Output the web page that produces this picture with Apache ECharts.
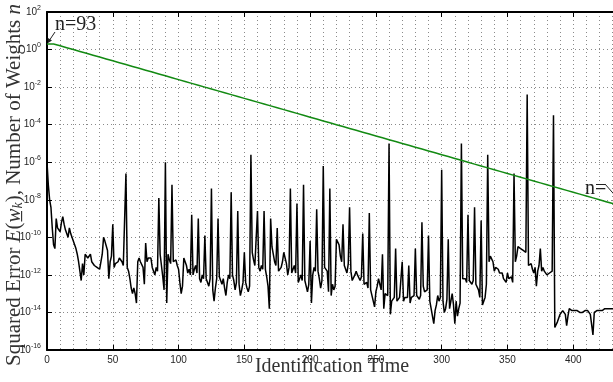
<!DOCTYPE html>
<html><head><meta charset="utf-8">
<script src="https://cdn.jsdelivr.net/npm/echarts@6/dist/echarts.min.js"></script>
<style>html,body{margin:0;padding:0;background:#fff}#c{width:613px;height:382px}</style>
</head><body><div id="c"></div>
<script>
// Squared error E(w_k), log10 values, one per identification time step 0..433
const errorLog10 = [
-6.0,-7.2,-8.0,-8.4,-9.5,-10.4,-10.6,-9.0,-9.5,-9.4,
-9.7,-9.2,-8.9,-9.3,-9.6,-9.8,-10.0,-9.5,-9.8,-10.0,
-9.9,-10.4,-10.6,-10.9,-11.3,-11.8,-12.3,-11.4,-12.0,-10.9,
-10.8,-11.1,-11.0,-10.9,-11.3,-11.4,-11.5,-11.6,-11.6,-11.5,
-11.7,-11.6,-10.9,-10.0,-10.2,-10.1,-10.7,-12.2,-11.3,-11.0,
-9.3,-11.6,-11.4,-11.3,-11.3,-11.1,-11.1,-11.3,-11.5,-11.6,
-6.6,-11.6,-11.8,-12.2,-12.7,-13.0,-12.7,-13.0,-13.5,-11.3,
-11.1,-11.3,-11.2,-11.6,-12.5,-10.3,-11.3,-11.1,-11.0,-11.1,
-11.6,-11.7,-12.0,-11.6,-11.8,-7.9,-10.9,-11.0,-12.1,-12.8,
-6.0,-13.5,-10.9,-11.2,-11.4,-7.2,-11.3,-11.4,-11.2,-11.5,
-11.7,-12.4,-13.0,-12.6,-11.1,-11.3,-11.5,-11.9,-11.7,-12.0,
-8.8,-12.0,-11.7,-11.5,-11.9,-9.0,-12.2,-12.4,-12.0,-12.2,
-9.9,-12.2,-12.4,-12.6,-12.2,-7.4,-12.8,-13.4,-12.7,-12.2,
-9.0,-12.1,-12.3,-12.5,-12.2,-12.7,-13.1,-12.4,-12.0,-12.2,
-7.6,-12.0,-12.3,-12.8,-12.4,-8.6,-12.5,-13.1,-12.8,-12.4,
-10.8,-12.4,-12.7,-12.9,-12.6,-5.6,-10.8,-11.2,-11.5,-11.6,
-8.6,-11.6,-11.8,-11.5,-11.7,-8.6,-11.7,-12.1,-12.6,-13.8,
-9.0,-10.5,-10.9,-11.3,-11.5,-9.5,-11.8,-11.9,-11.6,-11.3,
-10.8,-11.1,-11.4,-12.0,-11.6,-7.4,-11.9,-11.7,-11.5,-11.9,
-8.2,-12.4,-12.3,-12.0,-12.3,-7.2,-12.3,-12.6,-12.9,-12.5,
-10.2,-13.5,-12.0,-11.6,-11.8,-8.5,-11.8,-12.2,-12.7,-12.3,
-6.2,-11.6,-11.5,-11.8,-12.9,-7.4,-13.1,-12.5,-12.8,-12.6,
-10.1,-10.2,-10.4,-11.0,-11.3,-9.3,-11.5,-11.6,-11.9,-11.4,
-8.4,-11.8,-12.3,-12.4,-12.0,-11.8,-12.0,-11.9,-12.3,-12.1,
-9.8,-12.5,-12.6,-12.4,-12.7,-8.7,-12.8,-12.9,-13.4,-13.7,
-12.9,-12.6,-12.2,-12.5,-12.8,-10.9,-13.8,-13.0,-12.9,-13.1,
-5.0,-14.1,-13.4,-13.3,-13.2,-10.6,-13.4,-13.3,-13.2,-13.1,
-11.3,-13.4,-13.2,-13.3,-13.2,-11.5,-13.5,-13.2,-13.3,-13.1,
-10.6,-13.1,-13.2,-13.3,-13.1,-9.2,-12.6,-12.9,-13.0,-12.8,
-9.9,-13.4,-13.8,-14.2,-14.6,-13.9,-13.6,-13.1,-13.4,-13.2,
-6.4,-13.4,-14.0,-13.8,-13.3,-10.1,-13.8,-13.4,-13.0,-13.6,
-14.6,-13.4,-14.2,-13.8,-13.5,-5.0,-12.2,-12.3,-12.2,-12.4,
-8.8,-12.3,-12.2,-12.5,-12.3,-8.4,-12.5,-12.6,-12.8,-13.2,
-9.1,-13.6,-13.4,-13.2,-12.5,-5.6,-11.3,-11.0,-11.1,-11.3,
-11.8,-11.6,-11.5,-11.7,-11.9,-12.0,-11.9,-12.2,-12.3,-12.4,
-11.9,-12.2,-12.3,-12.1,-12.4,-6.6,-11.3,-11.0,-10.5,-10.4,
-10.6,-10.5,-10.7,-10.6,-10.8,-2.4,-11.5,-11.6,-11.4,-11.7,
-11.9,-11.6,-12.6,-11.8,-11.5,-10.6,-11.8,-11.6,-11.8,-11.7,
-12.0,-12.1,-11.9,-12.0,-11.8,-3.5,-14.8,-14.7,-14.5,-14.3,
-14.1,-14.0,-13.9,-13.8,-14.1,-14.7,-14.2,-13.8,-13.8,-13.9,
-13.9,-13.9,-14.0,-13.9,-14.0,-14.0,-13.9,-14.0,-14.0,-13.9,
-14.0,-13.9,-14.0,-14.1,-14.0,-15.2,-14.0,-13.9,-13.9,-14.0,
-13.9,-13.9,-13.9,-13.9,-13.8,-13.9,-13.8,-13.9,-13.8,-13.9,
-13.8,-13.9,-13.8,-13.8
];
// Number-of-weights curve (green staircase), log10 level of each 5-step segment
const weightLog10 = [
0.3,0.2,0.1,0.0,-0.1,-0.2,-0.3,-0.4,-0.5,-0.6,
-0.7,-0.8,-0.9,-1.0,-1.1,-1.2,-1.3,-1.4,-1.5,-1.6,
-1.7,-1.8,-1.9,-2.0,-2.1,-2.2,-2.3,-2.4,-2.5,-2.6,
-2.7,-2.8,-2.9,-3.0,-3.1,-3.2,-3.3,-3.4,-3.5,-3.6,
-3.7,-3.8,-3.9,-4.0,-4.1,-4.2,-4.3,-4.4,-4.5,-4.6,
-4.7,-4.8,-4.9,-5.0,-5.1,-5.2,-5.3,-5.4,-5.5,-5.6,
-5.7,-5.8,-5.9,-6.0,-6.1,-6.2,-6.3,-6.4,-6.5,-6.6,
-6.7,-6.8,-6.9,-7.0,-7.1,-7.2,-7.3,-7.4,-7.5,-7.6,
-7.7,-7.8,-7.9,-8.0,-8.1,-8.2,-8.3
];
const stepLength = 5;
const xTickValues = [0, 50, 100, 150, 200, 250, 300, 350, 400, 450];
const yExponents = [2, 0, -2, -4, -6, -8, -10, -12, -14, -16];
const startLabel = 'n=93';
const endLabel = 'n=';

const errorData = errorLog10.map((v, i) => [i, Math.pow(10, v)]);
const weightData = weightLog10.map((v, i) => [i * stepLength, Math.pow(10, v)]);
weightData.push([weightLog10.length * stepLength, Math.pow(10, weightLog10[weightLog10.length - 1])]);

const chart = echarts.init(document.getElementById('c'), null, {renderer: 'canvas'});
const gridLine = {show: true, lineStyle: {color: '#8a8a8a', width: 1, type: [1, 3]}};
const tickFont = {fontFamily: 'Liberation Sans', fontSize: 10, color: '#262626'};

chart.setOption({
  animation: false,
  backgroundColor: '#fff',
  grid: {left: 47, right: -26, top: 12, bottom: 32, show: false, outerBoundsMode: 'none', containLabel: false},
  xAxis: [{
    type: 'value', min: xTickValues[0], max: xTickValues[xTickValues.length - 1], interval: 50,
    position: 'bottom',
    axisLine: {show: true, onZero: false, lineStyle: {color: '#000', width: 2}},
    axisTick: {show: true, inside: true, length: 5, lineStyle: {color: '#000', width: 1}},
    axisLabel: Object.assign({margin: 5}, tickFont),
    splitLine: gridLine,
    minorTick: {show: false, splitNumber: 5},
    minorSplitLine: gridLine
  }, {
    type: 'value', min: xTickValues[0], max: xTickValues[xTickValues.length - 1], interval: 50,
    position: 'top',
    axisLine: {show: true, onZero: false, lineStyle: {color: '#000', width: 2}},
    axisTick: {show: true, inside: true, length: 5, lineStyle: {color: '#000', width: 1}},
    axisLabel: {show: false},
    splitLine: {show: false}
  }],
  yAxis: {
    type: 'log', logBase: 10,
    min: Math.pow(10, yExponents[yExponents.length - 1]), max: Math.pow(10, yExponents[0]),
    interval: 2,
    axisLine: {show: true, onZero: false, lineStyle: {color: '#000', width: 2}},
    axisTick: {show: true, inside: true, length: 5, lineStyle: {color: '#000', width: 1}},
    splitLine: gridLine,
    axisLabel: {
      margin: 6,
      formatter: v => '{b|10}{e|' + Math.round(Math.log10(v)) + '}',
      rich: {
        b: {fontFamily: 'Liberation Sans', fontSize: 10, color: '#262626'},
        e: {fontFamily: 'Liberation Sans', fontSize: 7, color: '#262626', padding: [0, 0, 8, 0]}
      }
    }
  },
  series: [{
    type: 'line', name: 'error', data: errorData, showSymbol: false, symbol: 'none',
    lineStyle: {color: '#000', width: 1.5}, clip: true, z: 3
  }, {
    type: 'line', name: 'weights', data: weightData, step: 'end', showSymbol: false, symbol: 'none',
    lineStyle: {color: '#138a13', width: 1.5}, clip: true, z: 4
  }]
});

const tip = chart.convertToPixel({xAxisIndex: 0, yAxisIndex: 0}, [0, Math.pow(10, weightLog10[0])]);
const serifFont = 'Liberation Serif';
chart.setOption({
  graphic: [
    {type: 'text', x: 332, y: 367, style: {text: 'Identification Time', fontFamily: serifFont, fontSize: 20, fill: '#333', align: 'center', verticalAlign: 'middle'}},
    {type: 'text', x: 14, y: 366, rotation: Math.PI / 2, style: {
      text: '{r|Squared Error }{i|E}{r|(}{i|w\u0332}{s|k}{r|), Number of Weights }{i|n}',
      align: 'left', verticalAlign: 'middle',
      rich: {
        r: {fontFamily: serifFont, fontSize: 21, fill: '#333'},
        i: {fontFamily: serifFont, fontSize: 21, fontStyle: 'italic', fill: '#333'},
        s: {fontFamily: serifFont, fontSize: 14, fontStyle: 'italic', fill: '#333', padding: [9, 0, 0, 0]}
      }
    }},
    {type: 'text', x: 55, y: 25, style: {text: startLabel, fontFamily: serifFont, fontSize: 20, fill: '#222', align: 'left', verticalAlign: 'middle'}},
    {type: 'line', shape: {x1: 55, y1: 32, x2: tip[0] + 2, y2: tip[1] - 3}, style: {stroke: '#222', lineWidth: 1}},
    {type: 'polygon', shape: {points: [[tip[0] + 1, tip[1] - 1], [tip[0] + 1, tip[1] - 6], [tip[0] + 5, tip[1] - 3.5]]}, style: {fill: '#222'}},
    {type: 'text', x: 585, y: 189, style: {text: endLabel, fontFamily: serifFont, fontSize: 20, fill: '#222', align: 'left', verticalAlign: 'middle'}},
    {type: 'line', shape: {x1: 605, y1: 184, x2: 619, y2: 200}, style: {stroke: '#222', lineWidth: 1}}
  ]
});
</script>
</body></html>
